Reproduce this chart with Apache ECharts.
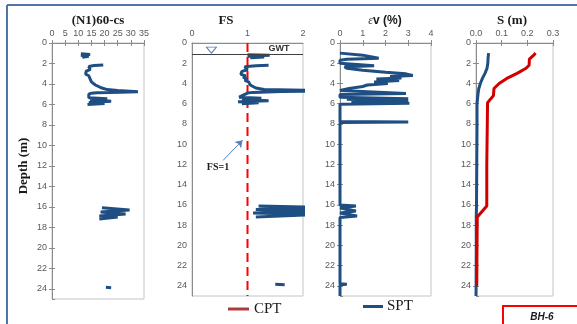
<!DOCTYPE html>
<html>
<head>
<meta charset="utf-8">
<script src="https://cdn.jsdelivr.net/npm/echarts@6/dist/echarts.min.js"></script>
<style>
  html, body { margin: 0; padding: 0; background: #ffffff; }
  #chart { width: 577px; height: 324px; }
</style>
</head>
<body>
<div id="chart"></div>
<script>
// ---- Borehole BH-6 profiles: [value, depth (m)], null = gap in the record ----
const n160cs = [
  [11,1.05],[14.5,1.12],[11,1.2],[14,1.3],[11.5,1.4], null,
  [19.5,2.15],[16,2.2],[14,2.3],[13.5,2.45],[14.5,2.6],[13,2.75],[13.5,2.9],[12.8,3.05],
  [14,3.2],[13.5,3.35],[14.5,3.5],[14,3.65],[15,3.8],[15.5,3.95],[16.5,4.1],[17,4.25],
  [19,4.4],[21,4.55],[25,4.65],[32.7,4.75],[26,4.8],[17,4.85],[15,4.9],[14,5.0],
  [14,5.35],[21,5.45],[14.5,5.55],[22.5,5.7],[14,5.8],[20,5.9],[13.5,6.0], null,
  [19,16.1],[29.5,16.3],[18.5,16.5],[28,16.7],[18,16.9],[25,17.0],[18,17.2], null,
  [20.5,23.85],[22.5,23.9]
];

const factorOfSafety = [
  [1.0,1.15],[1.4,1.2],[1.0,1.3],[1.3,1.38],[1.05,1.45], null,
  [1.38,2.2],[1.15,2.25],[0.95,2.35],[0.92,2.5],[1.0,2.65],[0.9,2.8],[0.93,2.95],[0.88,3.1],
  [0.97,3.25],[0.92,3.4],[1.0,3.55],[0.95,3.7],[1.02,3.85],[1.0,4.0],[1.05,4.15],[1.08,4.3],
  [1.15,4.45],[1.3,4.6],[2.5,4.72],[1.6,4.8],[1.1,4.88],[1.0,4.95],
  [0.85,5.35],[1.25,5.45],[0.9,5.55],[1.38,5.7],[0.83,5.8],[1.2,5.9],[0.9,6.0], null,
  [1.2,16.1],[2.3,16.25],[1.15,16.45],[2.3,16.6],[1.1,16.8],[2.2,16.95],[1.15,17.2], null,
  [1.5,23.85],[1.67,23.9]
];

const volStrain = [
  [0,1.0],[1.0,1.2],[1.7,1.5],[0.3,1.6],[0,1.7],[0,2.0],[1.5,2.25],[0.2,2.35],
  [0.3,2.5],[1.0,2.7],[2.0,2.9],[2.9,3.05],[3.2,3.2],[2.2,3.3],[2.7,3.45],[1.6,3.55],
  [2.6,3.7],[1.5,3.85],[2.1,4.0],[1.2,4.15],[1.0,4.3],[0.4,4.5],[0,4.7],[0,4.85],
  [2.9,5.0],[0,5.1],[0,5.35],[3.0,5.5],[0.3,5.55],[3.0,5.7],[0.5,5.78],[3.05,5.95],
  [0,6.05],[0,7.75],[3.0,7.8],[0,7.85],[0,16.0],[0.7,16.1],[0,16.3],[0.7,16.6],
  [0,16.8],[0.75,17.1],[0,17.25],[0,23.8],[0.3,23.85],[0,23.9],[0,25]
];

const settlementSpt = [
  [0.049,1.0],[0.047,1.5],[0.046,2.0],[0.043,2.5],[0.035,3.0],[0.025,3.5],[0.017,4.0],
  [0.011,4.5],[0.008,5.0],[0.006,5.5],[0.004,6.0],[0.004,8],[0.003,12],[0.002,16],
  [0.001,17.2],[0.001,20],[0.0005,24],[0,25]
];

const settlementCpt = [
  [0.232,1.0],[0.225,1.2],[0.208,1.6],[0.207,2.2],[0.195,2.5],[0.16,3.0],[0.12,3.5],
  [0.09,4.0],[0.07,4.5],[0.068,5.2],[0.058,5.5],[0.045,5.9],[0.044,8],[0.042,12],
  [0.042,16.1],[0.005,17.2],[0.004,20],[0.003,24]
];

const fsLimit = 1;          // liquefaction threshold
const gwtDepth = 1.15;      // groundwater table
const depthMax = 25;

const blue = '#1f4e83';
const red = '#d00000';
const axisGrey = '#8c8c8c';
const labelGrey = '#595959';
const sans = 'Liberation Sans, Arial, sans-serif';
const serif = 'Liberation Serif, Times New Roman, serif';

const toData = arr => arr.map(p => (p === null ? ['-', '-'] : p));

const grids = [
  { left: 52, top: 43, width: 92, height: 256 },
  { left: 192, top: 43, width: 111, height: 253 },
  { left: 340, top: 43, width: 91, height: 253 },
  { left: 476, top: 43, width: 77, height: 253 }
].map(g => Object.assign({ show: true, borderColor: '#c4c4c4', borderWidth: 1, backgroundColor: '#fff' }, g));

const xRanges = [
  { min: 0, max: 35, interval: 5, fmt: v => v, ticks: true },
  { min: 0, max: 2, interval: 1, fmt: v => v, ticks: false },
  { min: 0, max: 4, interval: 1, fmt: v => v, ticks: true },
  { min: 0, max: 0.3, interval: 0.1, fmt: v => v.toFixed(1), ticks: true }
];

const xAxes = [];
const yAxes = [];
xRanges.forEach((r, i) => {
  xAxes.push({
    type: 'value', gridIndex: i, position: 'top', min: r.min, max: r.max, interval: r.interval,
    axisLine: { show: true, lineStyle: { color: axisGrey } },
    axisTick: { show: r.ticks, length: 3, lineStyle: { color: axisGrey } },
    axisLabel: { fontSize: 9, color: labelGrey, margin: 5, fontFamily: sans, formatter: r.fmt },
    splitLine: { show: false }
  });
  yAxes.push({
    type: 'value', gridIndex: i, position: 'left', inverse: true, min: 0, max: depthMax, interval: 2,
    axisLine: { show: true, lineStyle: { color: axisGrey } },
    axisTick: { show: r.ticks, length: 3, lineStyle: { color: axisGrey } },
    axisLabel: { fontSize: 9, color: labelGrey, margin: 5, fontFamily: sans, showMaxLabel: false },
    splitLine: { show: false }
  });
});
// inner halves of the cross tick marks
xRanges.forEach((r, i) => {
  if (!r.ticks) return;
  xAxes.push({
    type: 'value', gridIndex: i, position: 'top', min: r.min, max: r.max, interval: r.interval,
    axisLine: { show: false }, axisLabel: { show: false }, splitLine: { show: false },
    axisTick: { show: true, inside: true, length: 3, lineStyle: { color: axisGrey } }
  });
  yAxes.push({
    type: 'value', gridIndex: i, position: 'left', inverse: true, min: 0, max: depthMax, interval: 2,
    axisLine: { show: false }, axisLabel: { show: false }, splitLine: { show: false },
    axisTick: { show: true, inside: true, length: 3, lineStyle: { color: axisGrey } }
  });
});

const profile = (data, i, color, width) => ({
  type: 'line', xAxisIndex: i, yAxisIndex: i, data: toData(data),
  showSymbol: false, symbol: 'none', connectNulls: false, clip: true,
  lineStyle: { color: color, width: width }, z: 3
});

const fsSeries = profile(factorOfSafety, 1, blue, 3);
fsSeries.markLine = {
  silent: true, symbol: 'none', label: { show: false },
  data: [
    { yAxis: gwtDepth, lineStyle: { color: '#404040', width: 1, type: 'solid' } },
    [
      { coord: [0.56, 11.6], symbol: 'none' },
      { coord: [0.91, 9.6], symbol: 'arrow', symbolSize: 7 }
    ]
  ],
  lineStyle: { color: '#4f81bd', width: 1, type: 'solid' }
};
fsSeries.markPoint = {
  silent: true,
  data: [{ coord: [0.35, 0.7], symbol: 'triangle', symbolRotate: 180, symbolSize: [10, 6],
           itemStyle: { color: '#fff', borderColor: '#4f81bd', borderWidth: 1 }, label: { show: false } }]
};

const series = [
  profile(n160cs, 0, blue, 3),
  {
    type: 'line', xAxisIndex: 1, yAxisIndex: 1, symbol: 'none',
    data: [[fsLimit, 0], [fsLimit, depthMax]],
    lineStyle: { color: '#ff0000', width: 2, type: [9, 5] }, z: 2
  },
  fsSeries,
  profile(volStrain, 2, blue, 3),
  profile(settlementSpt, 3, blue, 3),
  profile(settlementCpt, 3, red, 3)
];

const graphic = [
  // page frame
  { type: 'line', shape: { x1: 7, y1: 5, x2: 577, y2: 5 }, style: { stroke: '#4f76a9', lineWidth: 2 } },
  { type: 'line', shape: { x1: 7, y1: 5, x2: 7, y2: 324 }, style: { stroke: '#4f76a9', lineWidth: 2 } },
  // panel titles
  { type: 'text', x: 98, y: 21, style: { text: '(N1)60-cs', font: 'bold 13px ' + serif, fill: '#1a1a1a', align: 'center', verticalAlign: 'middle' } },
  { type: 'text', x: 226, y: 21, style: { text: 'FS', font: 'bold 13px ' + serif, fill: '#1a1a1a', align: 'center', verticalAlign: 'middle' } },
  { type: 'text', x: 385, y: 21, style: {
      text: '{e|ε}{v|v (%)}', align: 'center', verticalAlign: 'middle',
      rich: { e: { font: 'italic 12px ' + serif, fill: '#333' }, v: { font: 'bold 12px ' + sans, fill: '#1a1a1a' } }
  } },
  { type: 'text', x: 512, y: 21, style: { text: 'S (m)', font: 'bold 13px ' + serif, fill: '#1a1a1a', align: 'center', verticalAlign: 'middle' } },
  { type: 'text', x: 24, y: 166, rotation: Math.PI / 2, style: { text: 'Depth (m)', font: 'bold 13px ' + serif, fill: '#1a1a1a', align: 'center', verticalAlign: 'middle' } },
  // annotations
  { type: 'text', x: 279, y: 49, style: { text: 'GWT', font: 'bold 9px ' + sans, fill: '#333', align: 'center', verticalAlign: 'middle' } },
  { type: 'text', x: 218, y: 167, style: { text: 'FS=1', font: 'bold 10px ' + serif, fill: '#1a1a1a', align: 'center', verticalAlign: 'middle' } },
  // legend
  { type: 'line', shape: { x1: 228, y1: 309, x2: 249, y2: 309 }, style: { stroke: '#b03a3a', lineWidth: 3 } },
  { type: 'text', x: 254, y: 309, style: { text: 'CPT', font: '15px ' + serif, fill: '#1a1a1a', align: 'left', verticalAlign: 'middle' } },
  { type: 'line', shape: { x1: 363, y1: 306.5, x2: 383, y2: 306.5 }, style: { stroke: blue, lineWidth: 3 } },
  { type: 'text', x: 387, y: 306.5, style: { text: 'SPT', font: '15px ' + serif, fill: '#1a1a1a', align: 'left', verticalAlign: 'middle' } },
  // borehole tag
  { type: 'rect', shape: { x: 503, y: 306, width: 80, height: 24 }, style: { fill: '#fff', stroke: '#ff0000', lineWidth: 2 } },
  { type: 'text', x: 542, y: 317, style: { text: 'BH-6', font: 'italic bold 10px ' + sans, fill: '#1a1a1a', align: 'center', verticalAlign: 'middle' } }
];

const chart = echarts.init(document.getElementById('chart'), null, { renderer: 'canvas' });
chart.setOption({
  animation: false,
  backgroundColor: '#ffffff',
  grid: grids,
  xAxis: xAxes,
  yAxis: yAxes,
  series: series,
  graphic: graphic
});
</script>
</body>
</html>
